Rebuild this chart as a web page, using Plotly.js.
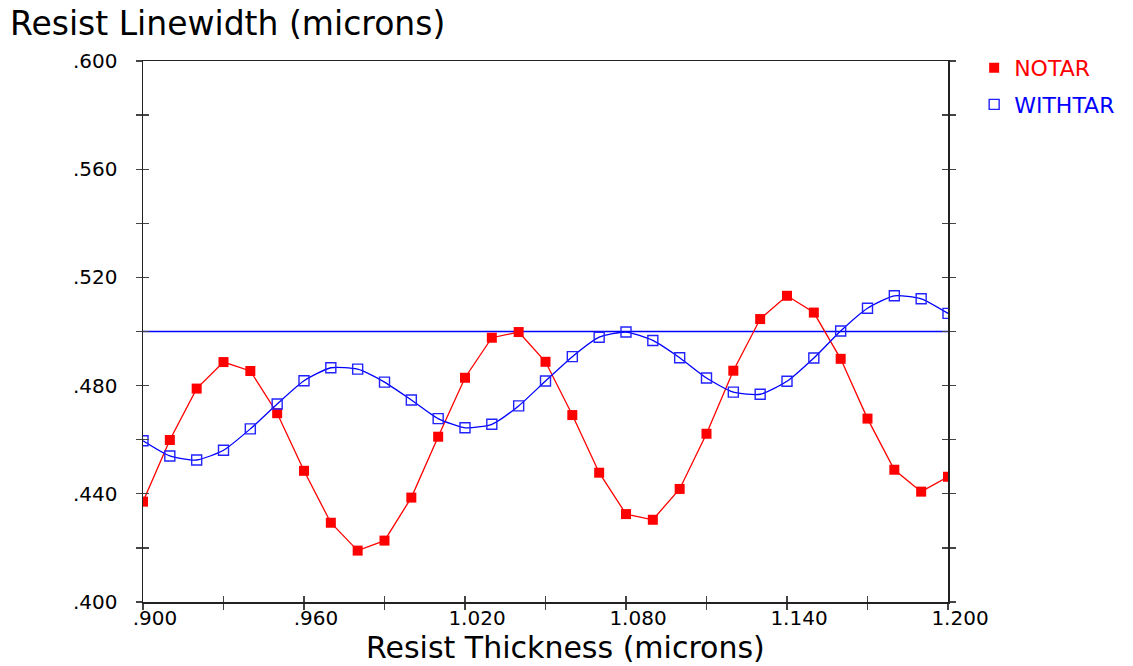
<!DOCTYPE html>
<html>
<head>
<meta charset="utf-8">
<script src="https://cdn.plot.ly/plotly-3.0.1.min.js"></script>
<style>html,body{margin:0;padding:0;background:#fff;}#chart{width:1133px;height:666px;}</style>
</head>
<body>
<div id="chart"></div>
<script>
// Data
const thickness = [0.900,0.910,0.920,0.930,0.940,0.950,0.960,0.970,0.980,0.990,1.000,1.010,1.020,1.030,1.040,1.050,1.060,1.070,1.080,1.090,1.100,1.110,1.120,1.130,1.140,1.150,1.160,1.170,1.180,1.190,1.200];
const notar = [0.4371,0.4599,0.4789,0.4887,0.4854,0.4698,0.4485,0.4293,0.4190,0.4227,0.4386,0.4611,0.4829,0.4977,0.4998,0.4888,0.4691,0.4478,0.4325,0.4304,0.4418,0.4622,0.4855,0.5046,0.5132,0.5070,0.4899,0.4678,0.4489,0.4408,0.4463];
const withtar = [0.4596,0.4540,0.4525,0.4561,0.4640,0.4732,0.4818,0.4866,0.4861,0.4813,0.4747,0.4678,0.4644,0.4657,0.4725,0.4817,0.4907,0.4979,0.4998,0.4967,0.4903,0.4828,0.4776,0.4768,0.4816,0.4902,0.5002,0.5086,0.5132,0.5121,0.5067];
const referenceLine = 0.500;
const seriesNames = ["NOTAR", "WITHTAR"];
const xTitle = "Resist Thickness (microns)";
const yTitle = "Resist Linewidth (microns)";

const xTickVals = [0.90,0.93,0.96,0.99,1.02,1.05,1.08,1.11,1.14,1.17,1.20];
const xTickText = [".900","",".960","","1.020","","1.080","","1.140","","1.200"];
const yTickVals = [0.40,0.42,0.44,0.46,0.48,0.50,0.52,0.54,0.56,0.58,0.60];
const yTickText = [".400","",".440","",".480","",".520","",".560","",".600"];

const FONT = "DejaVu Sans, Liberation Sans, Arial, sans-serif";

const traces = [
  {
    x: thickness, y: notar, name: seriesNames[0], type: "scatter", mode: "lines+markers",
    legendgroup: "a",
    line: {color: "#ff0000", width: 1.3},
    marker: {symbol: "square", size: 10, color: "#ff0000"}
  },
  {
    x: thickness, y: withtar, name: seriesNames[1], type: "scatter", mode: "lines+markers",
    legendgroup: "b",
    line: {color: "#0000ff", width: 1.3, shape: "spline", smoothing: 0.6},
    marker: {symbol: "square-open", size: 10, color: "#2222ff", line: {width: 1.4}}
  },
  // empty helper trace so the overlay axes (inner half of the crossing ticks) are drawn
  {x: [null], y: [null], xaxis: "x2", yaxis: "y2", type: "scatter", mode: "markers",
   showlegend: false, hoverinfo: "skip"}
];

const baseX = {
  range: [0.9, 1.2], tickmode: "array", tickvals: xTickVals,
  showgrid: false, zeroline: false, ticklen: 6, tickwidth: 1.3, tickcolor: "#444"
};
const baseY = {
  range: [0.4, 0.6], tickmode: "array", tickvals: yTickVals,
  showgrid: false, zeroline: false, ticklen: 6, tickwidth: 1.3, tickcolor: "#444"
};

const layout = {
  width: 1133, height: 666,
  paper_bgcolor: "#fff", plot_bgcolor: "#fff",
  margin: {l: 143, r: 185, t: 61, b: 64, autoexpand: false},
  font: {family: FONT, color: "#000"},
  title: {
    text: yTitle,
    font: {family: FONT, size: 33, color: "#000"},
    x: 10 / 1133, xanchor: "left", xref: "container",
    y: 1 - 23 / 666, yanchor: "middle", yref: "container"
  },
  xaxis: Object.assign({}, baseX, {
    ticktext: xTickText, ticks: "outside",
    showline: true, linecolor: "#222", linewidth: 1.5, mirror: true,
    tickfont: {family: FONT, size: 20, color: "#000"},
    ticklabelshift: 12, ticklabelstandoff: -9
  }),
  xaxis2: Object.assign({}, baseX, {
    overlaying: "x", anchor: "y", side: "bottom", ticks: "inside",
    showticklabels: false, showline: false
  }),
  yaxis: Object.assign({}, baseY, {
    ticktext: yTickText, ticks: "outside",
    showline: true, linecolor: "#222", linewidth: 1.5, mirror: "ticks",
    tickfont: {family: FONT, size: 20, color: "#000"},
    ticklabelstandoff: 14
  }),
  yaxis2: Object.assign({}, baseY, {
    overlaying: "y", anchor: "x", side: "left", ticks: "inside", mirror: "ticks",
    showticklabels: false, showline: true, linecolor: "#222", linewidth: 1.5
  }),
  annotations: [{
    text: xTitle, showarrow: false,
    xref: "paper", x: (565 - 143) / 805, xanchor: "center",
    yref: "paper", y: (602 - 647) / 541, yanchor: "middle",
    font: {family: FONT, size: 30, color: "#000"}
  }],
  shapes: [{
    type: "line", xref: "paper", x0: 0, x1: 1, yref: "y", y0: referenceLine, y1: referenceLine,
    line: {color: "#0000ff", width: 1.3}, layer: "below"
  }],
  showlegend: true,
  legend: {
    x: 1.0325, xanchor: "left", y: 1.026, yanchor: "top",
    font: {family: FONT, size: 22},
    bgcolor: "rgba(0,0,0,0)", tracegroupgap: 5
  }
};

Plotly.newPlot("chart", traces, layout, {displayModeBar: false, staticPlot: true}).then(function(gd){
  // legend shows only the marker, text coloured like its series
  const cols = ["#ff0000", "#0000ff"];
  gd.querySelectorAll(".legendtext").forEach(function(t, i){ t.style.fill = cols[i]; });
  gd.querySelectorAll(".legendlines").forEach(function(g){ g.style.display = "none"; });
});
</script>
</body>
</html>
